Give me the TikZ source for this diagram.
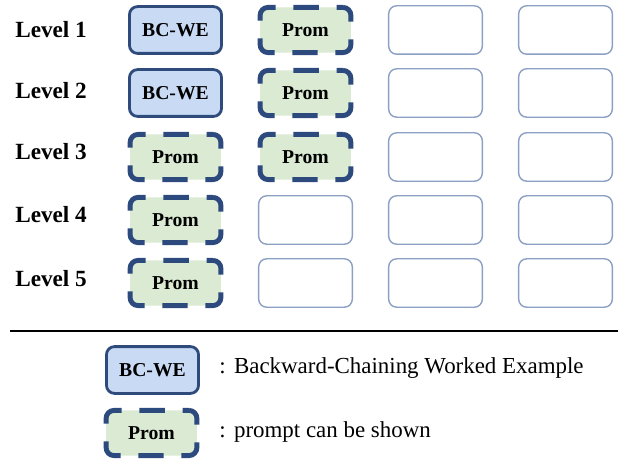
\documentclass[tikz,border=0pt]{standalone}
\usepackage{fontspec}
\setmainfont{Liberation Serif}
\usepackage{tikz}
\definecolor{bcfill}{HTML}{C9DAF5}
\definecolor{bcline}{HTML}{2F4B7C}
\definecolor{promfill}{HTML}{DAEAD3}
\definecolor{promline}{HTML}{2C4A7D}
\definecolor{emptyline}{HTML}{8CA0C3}
\tikzstyle{roundbox}=[rounded corners=0.2cm, inner sep=0pt, font=\fontsize{14}{16}\selectfont\bfseries]
\tikzstyle{bcwe}=[roundbox, draw=bcline, fill=bcfill, line width=2pt, minimum width=2.3cm, minimum height=1.17cm]
\tikzstyle{prom}=[roundbox, draw=promline, fill=promfill, line width=3.5pt, minimum width=2.27cm, minimum height=1.13cm, dash pattern=on 18pt off 12.62pt, dash phase=13.47pt]
\tikzstyle{emptybox}=[roundbox, draw=emptyline, line width=1pt, minimum width=2.34cm, minimum height=1.21cm]
\tikzstyle{levellabel}=[anchor=base west, inner sep=0pt, font=\fontsize{16.5}{19}\selectfont\bfseries]
\tikzstyle{keytext}=[anchor=base west, inner sep=0pt, font=\fontsize{16.3}{19}\selectfont]

\begin{document}
\begin{tikzpicture}[x=0.025cm, y=-0.025cm]
        \useasboundingbox (0,0) rectangle (618,465);
        % levels
        \node[levellabel] (L1) at (15,38) {Level 1};
        \node[levellabel] (L2) at (15,99) {Level 2};
        \node[levellabel] (L3) at (15,160) {Level 3};
        \node[levellabel] (L4) at (15,223) {Level 4};
        \node[levellabel] (L5) at (15,286) {Level 5};
        % row 1
        \node[bcwe] (B11) at (175.5,30) {BC-WE};
        \node[prom] (B12) at (305.5,30) {Prom};
        \node[emptybox] (B13) at (435.5,30) {};
        \node[emptybox] (B14) at (565.5,30) {};
        % row 2
        \node[bcwe] (B21) at (175.5,93) {BC-WE};
        \node[prom] (B22) at (305.5,93) {Prom};
        \node[emptybox] (B23) at (435.5,93) {};
        \node[emptybox] (B24) at (565.5,93) {};
        % row 3
        \node[prom] (B31) at (175.5,157) {Prom};
        \node[prom] (B32) at (305.5,157) {Prom};
        \node[emptybox] (B33) at (435.5,157) {};
        \node[emptybox] (B34) at (565.5,157) {};
        % row 4
        \node[prom] (B41) at (175.5,220) {Prom};
        \node[emptybox] (B42) at (305.5,220) {};
        \node[emptybox] (B43) at (435.5,220) {};
        \node[emptybox] (B44) at (565.5,220) {};
        % row 5
        \node[prom] (B51) at (175.5,283) {Prom};
        \node[emptybox] (B52) at (305.5,283) {};
        \node[emptybox] (B53) at (435.5,283) {};
        \node[emptybox] (B54) at (565.5,283) {};
        % legend
        \coordinate (ruleL) at (10,331);
        \coordinate (ruleR) at (618,331);
        \draw[line width=1.8pt] (ruleL) -- (ruleR);
        \node[bcwe] (keyBC) at (152.5,370) {BC-WE};
        \node[prom] (keyProm) at (151.5,433) {Prom};
        \node[keytext] (keyBCtext) at (219,373) {:\hspace{6pt}Backward-Chaining Worked Example};
        \node[keytext] (keyPromtext) at (219,437) {:\hspace{6pt}prompt can be shown};
    \end{tikzpicture}
\end{document}
